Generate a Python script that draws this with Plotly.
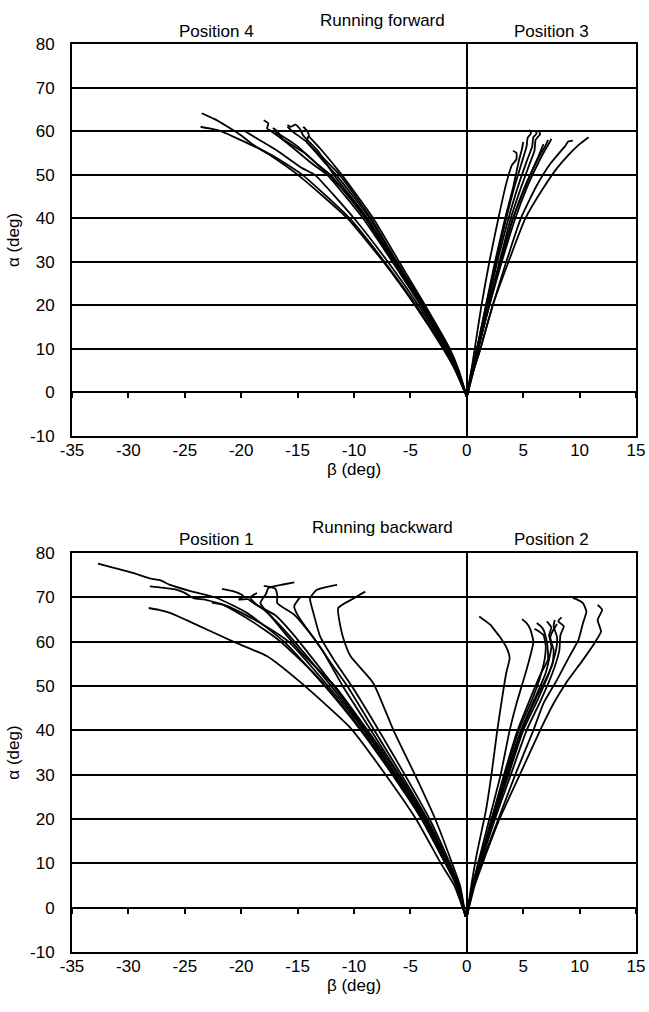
import plotly.graph_objects as go

# ---------------- data: each curve is a list of [beta, alpha] points (deg) ----------------
fwd_pos4 = [
    [[0,-1],[-1.0,5],[-2.1,10],[-4.6,20],[-7.4,30],[-10.6,40],[-15.0,50],[-17.7,54.9],[-18.9,56.8],[-20.0,59.0],[-21.2,61.0],[-22.4,62.8],[-23.5,64.1]],
    [[0,-1],[-1.0,5],[-2.0,10],[-4.5,20],[-7.3,30],[-10.4,40],[-14.6,50],[-17.3,54.5],[-19.5,57.3],[-21.7,59.9],[-22.8,60.6],[-23.6,61.0]],
    [[0,-1],[-0.9,5],[-1.8,10],[-4.1,20],[-6.6,30],[-9.2,40],[-12.4,50],[-13.7,52.5],[-15.8,57.0],[-17.3,59.9],[-17.7,60.6],[-17.6,61.8],[-18.0,62.5]],
    [[0,-1],[-0.8,5],[-1.7,10],[-3.9,20],[-6.4,30],[-8.8,40],[-11.8,50],[-13.2,55.5],[-14.5,59.0],[-14.8,60.5],[-15.2,61.5],[-15.6,61.0],[-15.9,61.4]],
    [[0,-1],[-0.8,5],[-1.6,10],[-3.8,20],[-6.2,30],[-8.5,40],[-11.3,50],[-12.8,54.0],[-14.2,57.6],[-14.0,59.1],[-14.2,60.2],[-14.5,61.0]],
    [[0,-1],[-0.9,5],[-1.8,10],[-4.0,20],[-6.5,30],[-9.0,40],[-12.1,50],[-13.3,52.5],[-15.0,56.5],[-16.2,58.6],[-17.0,59.7]],
    [[0,-1],[-0.9,5],[-1.9,10],[-4.3,20],[-7.0,30],[-10.0,40],[-13.5,50],[-14.6,51.5],[-16.8,55.5],[-18.6,58.3],[-19.8,60.2]],
    [[0,-1],[-0.8,5],[-1.7,10],[-3.9,20],[-6.3,30],[-8.6,40],[-11.6,50],[-12.5,52.5],[-14.2,57.5],[-15.5,60.0],[-15.9,61.0]],
    [[0,-1],[-0.8,5],[-1.7,10],[-3.9,20],[-6.4,30],[-8.9,40],[-10.4,45],[-12.7,51],[-14.4,55],[-16.4,58.4],[-16.8,60.0],[-17.2,60.7]],
    [[0,-1],[-0.7,5],[-1.5,10],[-3.7,20],[-6.0,30],[-8.3,40],[-11.1,50],[-13.0,56],[-14.0,58.8]],
]

fwd_pos3 = [
    [[0,-1],[0.4,5],[0.7,10],[1.3,20],[2.0,30],[2.8,40],[3.5,48],[4.0,52.2],[4.4,53.5],[4.4,55.0],[4.1,55.5]],
    [[0,-1],[0.5,5],[0.9,10],[1.7,20],[2.6,30],[3.5,40],[4.2,47],[4.9,53],[5.3,56.5],[5.4,58.5],[5.7,59.5],[5.5,60.3]],
    [[0,-1],[0.5,5],[0.9,10],[1.8,20],[2.7,30],[3.7,40],[4.5,47],[5.3,53],[5.8,56.5],[5.9,58.6],[6.2,59.5],[6.0,60.2]],
    [[0,-1],[0.5,5],[1.0,10],[1.9,20],[2.9,30],[3.9,40],[4.8,47],[5.5,52],[6.0,55.5],[6.1,58],[6.5,59.3],[6.4,60]],
    [[0,-1],[0.5,5],[1.0,10],[2.0,20],[3.0,30],[4.1,40],[5.1,47],[6.0,52],[6.6,55],[7.0,56.8],[7.2,58]],
    [[0,-1],[0.5,5],[1.0,10],[2.0,20],[3.1,30],[4.3,40],[5.4,47.5],[6.3,52.5],[6.9,55.5],[7.3,57.2],[7.5,58.2]],
    [[0,-1],[0.6,5],[1.2,10],[2.3,20],[3.5,30],[4.8,40],[6.2,47.5],[7.4,52.5],[8.3,55.3],[8.7,56.5],[9.0,57.6],[9.4,57.8]],
    [[0,-1],[0.6,5],[1.2,10],[2.3,20],[3.7,30],[5.2,40],[6.8,47],[8.0,51.5],[9.0,54.5],[10.0,57],[10.8,58.6]],
    [[0,-1],[0.5,5],[1.0,10],[1.9,20],[3.0,30],[4.1,40],[5.0,46],[5.8,51],[6.4,54.5],[6.8,57]],
    [[0,-1],[0.4,5],[0.9,10],[1.7,20],[2.5,30],[3.4,40],[4.1,47],[4.6,53],[4.9,56],[5.0,57.5]],
]

bwd_pos1 = [
    [[-0.1,-2],[-0.9,5],[-1.9,10],[-4.0,20],[-6.6,30],[-9.4,40],[-12.6,50],[-16.2,60],[-19.5,66.5],[-22.1,69.8],[-24.5,71.4],[-26.3,72.8],[-27.2,73.9],[-28.0,74.2],[-29.6,75.5],[-31.2,76.6],[-32.7,77.6]],
    [[-0.1,-2],[-0.9,5],[-1.8,10],[-3.8,20],[-6.3,30],[-9.1,40],[-12.3,50],[-15.8,60],[-18.5,64.5],[-21.0,67.8],[-23.2,69.5],[-24.2,69.8],[-25.0,71.0],[-25.7,71.7],[-27.0,72.2],[-28.1,72.5]],
    [[-0.1,-2],[-1.1,5],[-2.3,10],[-4.5,20],[-7.2,30],[-10.3,40.5],[-14.5,50.3],[-17.7,56.7],[-20.7,60.0],[-23.0,62.7],[-24.8,64.8],[-26.3,66.5],[-27.3,67.2],[-28.2,67.6]],
    [[-0.1,-2],[-0.9,5],[-1.8,10],[-3.8,20],[-6.3,30],[-8.9,40],[-11.2,48],[-13.3,55],[-15.5,62],[-17.0,66],[-18.8,68.5],[-19.4,69.6],[-20.2,69.5],[-19.8,70.3],[-20.6,71.3],[-21.7,71.9]],
    [[-0.1,-2],[-0.8,5],[-1.7,10],[-3.7,20],[-6.1,30],[-8.8,40],[-11.7,50],[-14.5,57],[-15.9,61.2],[-17.1,64.9],[-18.3,68.7],[-17.8,70.8],[-17.6,72.1],[-17.1,72.5],[-16.3,72.9],[-15.3,73.4]],
    [[-0.1,-2],[-0.7,5],[-1.6,10],[-3.5,20],[-5.8,30],[-8.2,40],[-10.6,50],[-12.0,55],[-13.6,61],[-15.3,66.1],[-16.8,68.7],[-16.8,70.5],[-17.0,72.0],[-18.0,72.6]],
    [[-0.1,-2],[-0.7,5],[-1.5,10],[-3.3,20],[-5.5,30],[-7.8,40],[-10.2,50],[-11.8,56],[-13.0,61.2],[-13.6,66.5],[-13.9,69.8],[-13.3,71.7],[-12.5,72.3],[-11.5,72.8]],
    [[-0.1,-2],[-0.6,5],[-1.3,10],[-2.8,20],[-4.6,30],[-6.5,40],[-8.3,50.7],[-10.3,56.7],[-10.9,60.4],[-11.2,63.4],[-11.4,67.6],[-10.0,69.8],[-9.5,70.6],[-9.0,71.3]],
    [[-0.1,-2],[-0.8,5],[-1.7,10],[-3.6,20],[-6.0,30],[-8.5,40],[-11.0,50],[-12.8,58],[-14.2,63],[-15.0,66],[-15.3,68],[-14.8,70]],
    [[-0.1,-2],[-0.9,5],[-1.9,10.5],[-4.1,21],[-6.8,31.5],[-9.6,42],[-12.5,51.5],[-14.6,58],[-16.5,63.5],[-17.8,66.8],[-18.7,68.5],[-19.2,70.0],[-18.6,71.0]],
    [[-0.1,-2],[-0.9,5],[-1.9,10],[-4.0,20],[-6.4,29.5],[-9.0,39],[-11.5,47],[-13.6,53],[-16.5,60],[-18.4,63.5],[-20.5,66.8],[-21.6,68.3],[-22.6,68.8]],
]

bwd_pos2 = [
    [[0,-2],[0.4,5],[0.9,12.3],[1.7,22],[2.2,30.3],[2.7,40],[3.2,48.4],[3.5,53],[3.8,56.3],[3.6,58.2],[2.9,61.2],[2.5,62.5],[2.1,63.8],[1.6,64.8],[1.1,65.7]],
    [[0,-2],[0.5,5],[1.0,10],[2.0,20],[3.0,30],[3.8,40],[4.4,46],[5.3,53.7],[5.9,60],[5.6,63],[5.3,64.2],[4.9,65.1]],
    [[0,-2],[0.5,5],[1.1,10],[2.2,20],[3.3,30],[4.5,40],[5.6,47],[6.6,53],[7.2,56],[7.1,60],[6.8,62.7],[6.5,63.6],[6.2,64.2]],
    [[0,-2],[0.5,5],[1.1,10],[2.3,20],[3.5,30],[4.8,40],[6.0,47],[7.0,53],[7.5,58.9],[7.3,61.5],[7.5,63.2],[7.1,64.6]],
    [[0,-2],[0.5,5],[1.2,10],[2.4,20],[3.7,30],[5.0,40],[6.3,47],[7.3,53],[7.9,58],[8.0,61],[7.7,63.5],[7.8,64.9]],
    [[0,-2],[0.6,5],[1.2,10],[2.5,20],[3.9,30],[5.3,40],[6.6,47],[7.6,53],[8.2,58],[8.3,61.5],[8.6,63.5],[8.1,64.6],[8.4,65.5]],
    [[0,-2],[0.5,5],[1.2,10],[2.4,20],[3.6,30],[4.9,40],[6.1,47],[7.1,52],[7.6,55],[7.7,58],[7.4,61],[7.7,62.8],[8.0,64.0]],
    [[0,-2],[0.6,5],[1.3,10],[2.8,20],[4.3,30],[5.9,40],[6.8,46.1],[8.0,51.4],[9.1,56.7],[9.9,60.4],[10.3,64.2],[10.6,66.8],[10.3,68.7],[9.8,69.5],[9.4,69.8]],
    [[0,-2],[0.7,5],[1.4,10],[2.9,20],[4.7,30],[6.5,40],[7.7,46.1],[8.8,50.7],[10.3,55.9],[11.4,60],[11.9,62.3],[11.6,64.9],[12.0,67.2],[11.6,68.3]],
    [[0,-2],[0.5,5],[1.1,10],[2.2,20],[3.4,30],[4.6,40],[5.8,47],[6.5,52],[6.9,56],[7.0,59],[6.8,61.5],[6.4,62.3],[6.0,62.9]],
]

x_ticks = [-35, -30, -25, -20, -15, -10, -5, 0, 5, 10, 15]
x_ticktext = ["-35", "-30", "-25", "-20", "-15", "-10", "-5", "0", "5", "10", "15"]
y_ticks = [-10, 0, 10, 20, 30, 40, 50, 60, 70, 80]
y_ticktext = ["-10", "0", "10", "20", "30", "40", "50", "60", "70", "80"]
x_range = [-35, 15]
y_range = [-10, 80]

top_titles = ["Position 4", "Running forward", "Position 3"]
bot_titles = ["Position 1", "Running backward", "Position 2"]
x_title = "β (deg)"
y_title = "α (deg)"

# ---------------- figure ----------------
W, H = 649, 1012
FONT = "Liberation Sans, Arial, sans-serif"
FS = 17
top_dom = [0.5683, 1.0]
bot_dom = [0.0, 0.4394]

fig = go.Figure()

def add_curves(curves, xa, ya):
    for c in curves:
        fig.add_trace(go.Scatter(
            x=[p[0] for p in c], y=[p[1] for p in c], mode="lines",
            line=dict(color="black", width=1.8, shape="spline", smoothing=0.5),
            xaxis=xa, yaxis=ya, showlegend=False, hoverinfo="skip"))

add_curves(fwd_pos4, "x", "y")
add_curves(fwd_pos3, "x", "y")
add_curves(bwd_pos1, "x2", "y2")
add_curves(bwd_pos2, "x2", "y2")
# dummy traces so tick-only overlay axes are drawn
fig.add_trace(go.Scatter(x=[None], y=[None], xaxis="x3", yaxis="y", showlegend=False, hoverinfo="skip"))
fig.add_trace(go.Scatter(x=[None], y=[None], xaxis="x4", yaxis="y2", showlegend=False, hoverinfo="skip"))

tickfont = dict(family=FONT, size=FS, color="black")

def xaxis(anchor):
    return dict(domain=[0, 1], anchor=anchor, range=x_range, tickvals=x_ticks, ticktext=x_ticktext,
                ticks="", showline=True, mirror=True, linecolor="black", linewidth=2,
                showgrid=False, zeroline=True, zerolinecolor="black", zerolinewidth=2,
                tickfont=tickfont, ticklabelstandoff=-2, automargin=False,
                ticklabeloverflow="allow",
                title=dict(text=x_title, font=tickfont, standoff=0), fixedrange=True)

def yaxis(anchor, dom):
    return dict(domain=dom, anchor=anchor, range=y_range, tickvals=y_ticks, ticktext=y_ticktext,
                ticks="", showline=True, mirror=True, linecolor="black", linewidth=2,
                showgrid=True, gridcolor="black", gridwidth=2, zeroline=False,
                tickfont=tickfont, ticklabelstandoff=12, automargin=False,
                title=dict(text=y_title, font=tickfont, standoff=6), fixedrange=True)

def zero_pos(dom):
    frac = (0 - y_range[0]) / (y_range[1] - y_range[0])
    return dom[0] + frac * (dom[1] - dom[0])

def tick_axis(overlay, dom):
    return dict(overlaying=overlay, anchor="free", position=zero_pos(dom), range=x_range,
                tickvals=x_ticks, ticks="outside", ticklen=5, tickwidth=1.5, tickcolor="black",
                showticklabels=False, showline=False, showgrid=False, zeroline=False,
                automargin=False, fixedrange=True)

fig.update_layout(
    width=W, height=H,
    margin=dict(l=72, r=13, t=44, b=60, autoexpand=False),
    paper_bgcolor="white", plot_bgcolor="white",
    font=dict(family=FONT, size=FS, color="black"),
    xaxis=xaxis("y"), yaxis=yaxis("x", top_dom),
    xaxis2=xaxis("y2"), yaxis2=yaxis("x2", bot_dom),
    xaxis3=tick_axis("x", top_dom), xaxis4=tick_axis("x2", bot_dom),
)

# annotation placement in page pixels (plot area spans page y 44..952)
ann = []
title_x = [0.257, 0.55, 0.851]
for tx, t, dy in zip(title_x, top_titles, [32, 20, 32]):
    ann.append(dict(text=t, x=tx, y=(952 - dy) / 908, xref="paper", yref="paper",
                    showarrow=False, font=dict(family=FONT, size=FS, color="black"),
                    xanchor="center", yanchor="middle"))
for tx, t, dy in zip(title_x, bot_titles, [539, 527, 539]):
    ann.append(dict(text=t, x=tx, y=(952 - dy) / 908, xref="paper", yref="paper",
                    showarrow=False, font=dict(family=FONT, size=FS, color="black"),
                    xanchor="center", yanchor="middle"))
fig.update_layout(annotations=ann)

# remove the default page margin so the figure fills the 649x1012 window exactly
fig.write_html("out.html", config={"displayModeBar": False},
               post_script="document.body.style.margin='0px';document.body.style.overflow='hidden';")
